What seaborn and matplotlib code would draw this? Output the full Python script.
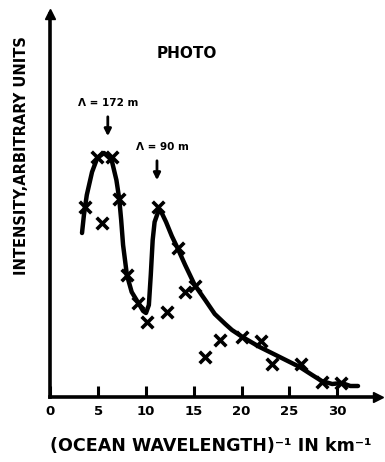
import matplotlib
matplotlib.use("Agg")
import matplotlib.pyplot as plt
import seaborn as sns
import pandas as pd

# measured points (crosses)
wavenumber = [3.6, 4.9, 5.4, 6.4, 7.2, 8.0, 9.2, 10.1, 11.3, 12.2, 13.3, 14.1, 15.1,
              16.2, 17.8, 20.1, 22.0, 23.2, 26.2, 28.4, 30.4]
intensity = [19.0, 24.0, 17.4, 24.0, 19.8, 12.2, 9.4, 7.5, 19.0, 8.5, 14.9, 10.5, 11.1,
             4.0, 5.7, 6.0, 5.6, 3.3, 3.3, 1.5, 1.4]

# hand-drawn fitted curve
curve_x = [3.3, 3.5, 3.8, 4.35, 4.9, 5.6, 6.4, 6.9, 7.2, 7.4, 7.6, 8.0, 8.5, 9.2, 9.7,
           10.0, 10.3, 10.5, 10.7, 10.9, 11.3, 11.6, 12.1, 12.7, 13.3, 14.1, 15.1, 16.2,
           17.2, 18.3, 19.0, 20.1, 21.9, 24.0, 26.1, 27.4, 28.4, 29.5, 30.5, 31.4, 32.2]
curve_y = [16.4, 18.2, 20.2, 22.5, 23.9, 24.4, 23.7, 21.7, 19.8, 17.7, 15.2, 12.2, 10.5,
           9.4, 8.6, 8.4, 9.2, 12.2, 15.7, 17.5, 18.6, 18.5, 17.5, 16.1, 14.9, 13.2, 11.2,
           9.7, 8.3, 7.3, 6.7, 6.0, 5.0, 4.0, 3.0, 2.2, 1.6, 1.3, 1.4, 1.1, 1.1]

xticks = [0, 5, 10, 15, 20, 25, 30]
peak_labels = ["\u039b = 172 m", "\u039b = 90 m"]

sns.set_style("white")
plt.rcParams["font.family"] = ["DejaVu Sans"]
plt.rcParams["font.weight"] = "bold"
plt.rcParams["text.color"] = "black"
plt.rcParams["axes.labelcolor"] = "black"
plt.rcParams["xtick.color"] = "black"

W, H = 385, 462
fig = plt.figure(figsize=(W / 100, H / 100), dpi=100)
x0, y0 = 50.5, 397
xr, yt = 378, 14
ax = fig.add_axes([x0 / W, (H - y0) / H, (xr - x0) / W, (y0 - yt) / H])

pts = pd.DataFrame({"x": wavenumber, "y": intensity})
cur = pd.DataFrame({"x": curve_x, "y": curve_y})

sns.lineplot(data=cur, x="x", y="y", sort=False, ax=ax, color="black", linewidth=3.2)
sns.scatterplot(data=pts, x="x", y="y", ax=ax, marker="x", color="black", s=70,
                linewidth=2.6, zorder=5)

ax.set_xlim(0, (xr - x0) / 9.55)
ax.set_ylim(0, (y0 - yt) / 10)
ax.set_xticks(xticks)
ax.set_xticklabels([str(t) for t in xticks], fontsize=9.5, fontweight="heavy", color="black")
ax.set_yticks([])
ax.tick_params(axis="x", direction="in", length=8, width=2.2, pad=6, bottom=True, colors="black")
for s in ["top", "right"]:
    ax.spines[s].set_visible(False)
for s in ["left", "bottom"]:
    ax.spines[s].set_linewidth(2.6)
    ax.spines[s].set_color("black")
ax.plot(1, 0, ">", color="black", markersize=7, transform=ax.transAxes, clip_on=False)
ax.plot(0, 1, "^", color="black", markersize=7, transform=ax.transAxes, clip_on=False)

ax.set_xlabel("(OCEAN WAVELENGTH)\u207b\u00b9 IN km\u207b\u00b9", fontsize=12.6,
              fontweight="heavy", color="black")
ax.xaxis.set_label_coords(0.49, -0.105)
ax.set_ylabel("INTENSITY,ARBITRARY UNITS", fontsize=10.5, fontweight="heavy", color="black")
ax.yaxis.set_label_coords(-0.065, 0.63)

ax.text(14.3, 34.3, "PHOTO", fontsize=11, fontweight="heavy", ha="center", va="center")
ax.text(6.0, 29.4, peak_labels[0], fontsize=7.5, fontweight="heavy", ha="center", va="center")
ax.text(11.7, 25.0, peak_labels[1], fontsize=7.5, fontweight="heavy", ha="center", va="center")
ax.annotate("", xy=(6.0, 25.8), xytext=(6.0, 28.3),
            arrowprops=dict(arrowstyle="-|>", color="black", lw=2, mutation_scale=10))
ax.annotate("", xy=(11.15, 21.4), xytext=(11.15, 23.9),
            arrowprops=dict(arrowstyle="-|>", color="black", lw=2, mutation_scale=10))

fig.savefig("out.png", dpi=100)
